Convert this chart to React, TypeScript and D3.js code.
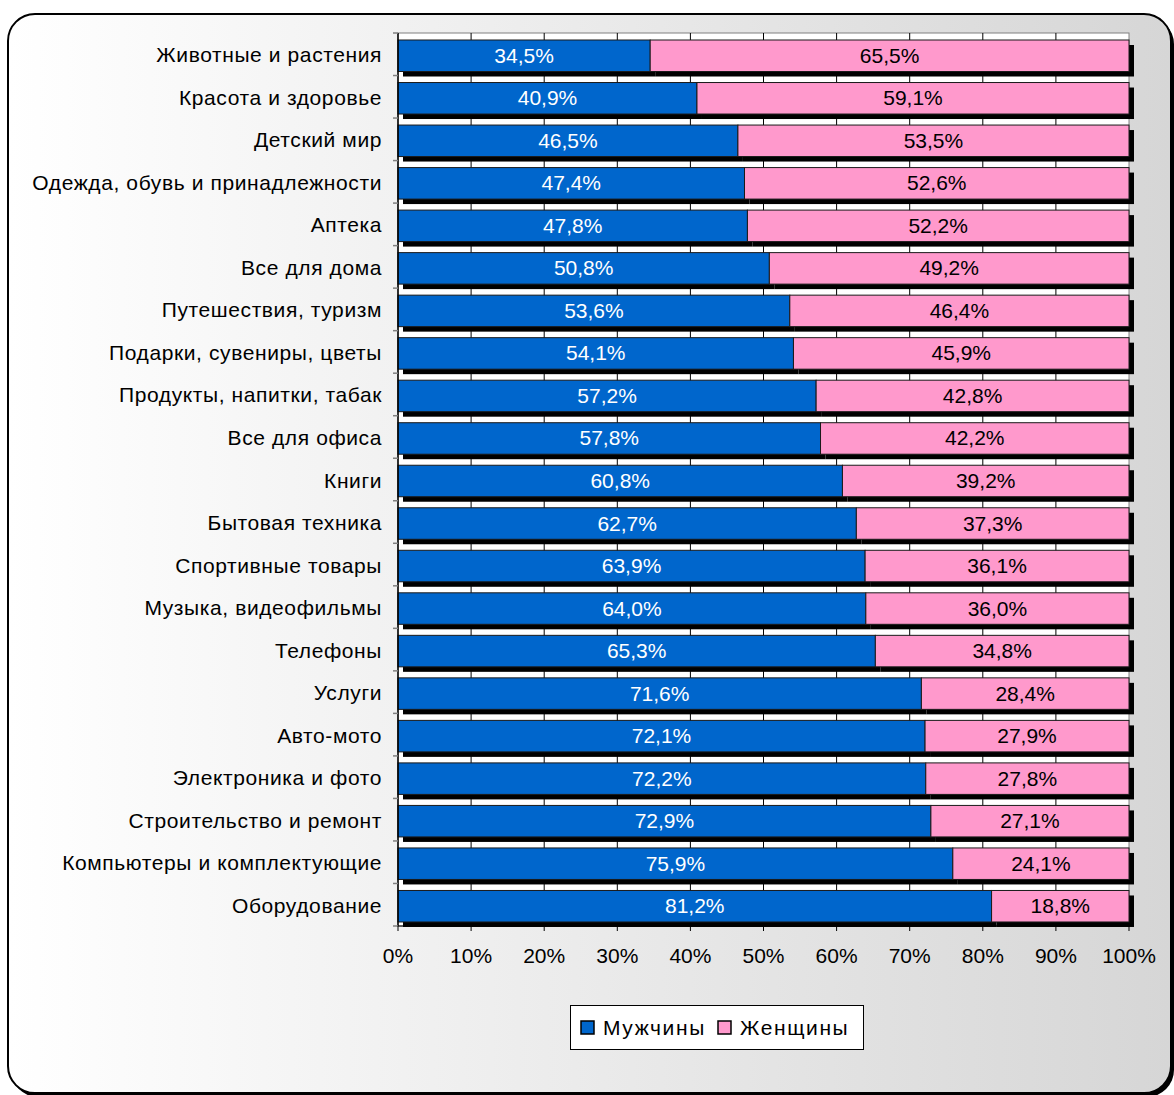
import React from 'react';
import * as d3 from 'd3';

// categories, top to bottom
const categories = [
  'Животные и растения',
  'Красота и здоровье',
  'Детский мир',
  'Одежда, обувь и принадлежности',
  'Аптека',
  'Все для дома',
  'Путешествия, туризм',
  'Подарки, сувениры, цветы',
  'Продукты, напитки, табак',
  'Все для офиса',
  'Книги',
  'Бытовая техника',
  'Спортивные товары',
  'Музыка, видеофильмы',
  'Телефоны',
  'Услуги',
  'Авто-мото',
  'Электроника и фото',
  'Строительство и ремонт',
  'Компьютеры и комплектующие',
  'Оборудование',
];
const men = [34.5, 40.9, 46.5, 47.4, 47.8, 50.8, 53.6, 54.1, 57.2, 57.8, 60.8, 62.7, 63.9, 64.0, 65.3, 71.6, 72.1, 72.2, 72.9, 75.9, 81.2];
const women = [65.5, 59.1, 53.5, 52.6, 52.2, 49.2, 46.4, 45.9, 42.8, 42.2, 39.2, 37.3, 36.1, 36.0, 34.8, 28.4, 27.9, 27.8, 27.1, 24.1, 18.8];
const seriesNames = ['Мужчины', 'Женщины'];
const xTicks = [0, 10, 20, 30, 40, 50, 60, 70, 80, 90, 100];

const W = 1174;
const H = 1095;
const FONT = '"Liberation Sans", Arial, sans-serif';
const colors = ['#0066CC', '#FF99CC'];
const labelColors = ['#ffffff', '#000000'];

const plot = { left: 398, right: 1129, top: 33, bottom: 926 };

const fmt = (v: number) => `${v.toFixed(1).replace('.', ',')}%`;

export default function App() {
  const x = d3.scaleLinear().domain([0, 100]).range([plot.left, plot.right]);
  const y = d3.scaleBand().domain(categories).range([plot.top, plot.bottom]).padding(0);

  const rows = categories.map((c, i) => ({ cat: c, m: men[i], w: women[i] }));
  const stacked = d3
    .stack<any>()
    .keys(['m', 'w'])(rows);

  const barOff = 7;
  const barH = 31.5;
  const sh = 5; // shadow offset

  return (
    <svg
      width={W}
      height={H}
      style={{ position: 'absolute', left: 0, top: 0, display: 'block' }}
      fontFamily={FONT}
    >
      <defs>
        <linearGradient id="bg" x1="0" y1="0" x2="1" y2="0">
          <stop offset="0" stopColor="#ffffff" />
          <stop offset="1" stopColor="#d6d6d6" />
        </linearGradient>
      </defs>
      <rect width={W} height={H} fill="#ffffff" />
      {/* frame with shadow */}
      <rect x={11} y={17} width={1163} height={1080} rx={27} fill="#000" />
      <rect x={8} y={14} width={1163} height={1079} rx={27} fill="url(#bg)" stroke="#000" strokeWidth={2} />

      {/* plot area */}
      <rect
        x={plot.left}
        y={plot.top}
        width={plot.right - plot.left}
        height={plot.bottom - plot.top}
        fill="#ffffff"
        stroke="#808080"
        strokeWidth={1}
      />
      {xTicks.slice(1, -1).map((t) => (
        <line key={t} x1={x(t)} x2={x(t)} y1={plot.top} y2={plot.bottom} stroke="#000" strokeWidth={1} />
      ))}

      {/* shadows */}
      {stacked.map((s, si) =>
        s.map((d, i) => (
          <rect
            key={`s${si}-${i}`}
            x={x(d[0]) + sh}
            y={(y(categories[i]) as number) + barOff + sh}
            width={x(Math.min(d[1], 100)) - x(d[0])}
            height={barH}
            fill="#000"
          />
        )),
      )}
      {/* bars */}
      {stacked.map((s, si) =>
        s.map((d, i) => (
          <rect
            key={`b${si}-${i}`}
            x={x(d[0])}
            y={(y(categories[i]) as number) + barOff}
            width={x(Math.min(d[1], 100)) - x(d[0])}
            height={barH}
            fill={colors[si]}
            stroke="#1a1a1a"
            strokeWidth={1}
          />
        )),
      )}
      {/* value labels */}
      {stacked.map((s, si) =>
        s.map((d, i) => (
          <text
            key={`l${si}-${i}`}
            x={(x(d[0]) + x(Math.min(d[1], 100))) / 2}
            y={(y(categories[i]) as number) + barOff + barH / 2 + 7}
            textAnchor="middle"
            fontSize={21}
            fill={labelColors[si]}
          >
            {fmt(si === 0 ? men[i] : women[i])}
          </text>
        )),
      )}

      {/* y axis */}
      <line x1={plot.left} x2={plot.left} y1={plot.top} y2={plot.bottom} stroke="#000" strokeWidth={1.5} />
      {categories.map((c, i) => (
        <line
          key={`yt${i}`}
          x1={plot.left - 5}
          x2={plot.left}
          y1={(y(c) as number) + y.bandwidth()}
          y2={(y(c) as number) + y.bandwidth()}
          stroke="#808080"
          strokeWidth={1.5}
        />
      ))}
      <line x1={plot.left - 5} x2={plot.left} y1={plot.top} y2={plot.top} stroke="#808080" strokeWidth={1.5} />
      {categories.map((c) => (
        <text
          key={`yl${c}`}
          x={382}
          y={(y(c) as number) + y.bandwidth() / 2 + 8}
          textAnchor="end"
          fontSize={21}
          letterSpacing={0.6}
          fill="#000"
        >
          {c}
        </text>
      ))}

      {/* x axis */}
      <line x1={plot.left} x2={plot.right} y1={plot.bottom} y2={plot.bottom} stroke="#000" strokeWidth={1} />
      {xTicks.map((t) => (
        <g key={`xt${t}`}>
          <line x1={x(t)} x2={x(t)} y1={plot.bottom} y2={plot.bottom + 5} stroke="#000" strokeWidth={1} />
          <text x={x(t)} y={963} textAnchor="middle" fontSize={21} fill="#000">
            {`${t}%`}
          </text>
        </g>
      ))}

      {/* legend */}
      <rect x={570.5} y={1005.5} width={293} height={44} fill="#ffffff" stroke="#000" strokeWidth={1} />
      {seriesNames.map((n, i) => {
        const lx = i === 0 ? 581 : 718;
        return (
          <g key={n}>
            <rect x={lx} y={1021} width={13} height={13} fill={colors[i]} stroke="#000" strokeWidth={1.5} />
            <text x={lx + 22} y={1035} fontSize={21} letterSpacing={1.6} fill="#000">
              {n}
            </text>
          </g>
        );
      })}
    </svg>
  );
}
